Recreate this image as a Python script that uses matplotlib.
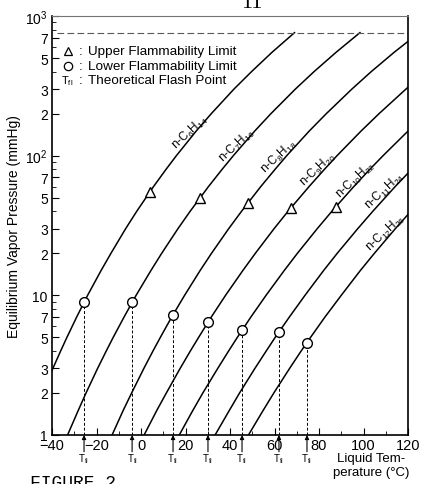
import matplotlib.pyplot as plt
from matplotlib.ticker import FixedLocator, FixedFormatter, NullFormatter

plt.rcParams['font.family'] = ['Liberation Sans', 'DejaVu Sans']
plt.rcParams['mathtext.fontset'] = 'custom'
plt.rcParams['mathtext.rm'] = 'Liberation Sans'
plt.rcParams['mathtext.it'] = 'Liberation Sans:italic'

# vapor pressure curves: temperature (degC) at each pressure level (mmHg)
p_levels = [1, 1.5, 2, 3, 4, 5, 7, 10, 15, 20, 30, 40, 60, 80, 100, 150, 200, 300, 400, 550, 760]
hexane_T = [-44.3, -39.6, -36.1, -33.3, -28.9, -24.0, -18.0, -13.5, -6.9, -1.9, 5.6, 11.3,
            15.9, 24.8, 31.6, 41.8, 49.7, 58.9, 69.0]          # starts at 2 mmHg
heptane_T = [-33.0, -28.2, -24.7, -19.5, -15.6, -12.5, -7.6, -2.2, 4.4, 9.3, 16.6, 22.1,
             30.3, 36.5, 41.5, 51.1, 58.4, 69.4, 77.8, 87.7, 98.4]
octane_T = [-13.0, -8.0, -4.2, 1.3, 5.4, 8.7, 13.8, 19.6, 26.5, 31.7, 39.4, 45.2,
            53.8, 60.3, 65.5, 75.6, 83.3, 94.8, 103.5, 113.8, 125.0]
nonane_T = [1.4, 7.1, 11.4, 17.6, 22.2, 25.9, 31.6, 38.0, 45.7, 51.4, 59.8, 66.1,
            75.5, 82.5, 88.1, 98.9, 107.0, 119.1, 128.2]
decane_T = [17.2, 23.3, 27.8, 34.5, 39.4, 43.3, 49.4, 56.2, 64.3, 70.3, 79.2, 85.8,
            95.6, 102.9, 108.8, 120.0, 128.4]
undecane_T = [33.3, 39.7, 44.3, 51.2, 56.3, 60.3, 66.7, 73.7, 82.0, 88.2, 97.4, 104.2,
              114.2, 121.7]
dodecane_T = [48.3, 54.9, 59.7, 66.8, 72.0, 76.2, 82.7, 90.0, 98.5, 104.9, 114.3, 121.3]

names = ['n-C$_6$H$_{14}$', 'n-C$_7$H$_{16}$', 'n-C$_8$H$_{18}$', 'n-C$_9$H$_{20}$',
         'n-C$_{10}$H$_{22}$', 'n-C$_{11}$H$_{24}$', 'n-C$_{12}$H$_{26}$']

# lower flammability limit (circles) = theoretical flash point
lfl_T = [-25.6, -4.0, 14.4, 30.1, 45.4, 62.0, 74.6]
lfl_P = [8.9, 8.9, 7.25, 6.41, 5.63, 5.47, 4.59]
# upper flammability limit (triangles)
ufl_T = [4.0, 26.5, 48.1, 67.4, 87.6]
ufl_P = [55.1, 50.0, 46.0, 42.3, 43.2]

xticks = [-40, -20, 0, 20, 40, 60, 80, 100, 120]
yticks = [1, 2, 3, 5, 7, 10, 20, 30, 50, 70, 100, 200, 300, 500, 700, 1000]
ylabels = ['1', '2', '3', '5', '7', '10', '2', '3', '5', '7', '10$^2$',
           '2', '3', '5', '7', '10$^3$']

fig = plt.figure(figsize=(4.21, 4.85), dpi=100)
ax = fig.add_axes([52/421, 1 - 436/485, 356/421, 419/485])

curves = [(hexane_T, p_levels[2:])]
for t in [heptane_T, octane_T, nonane_T, decane_T, undecane_T, dodecane_T]:
    curves.append((t, p_levels[:len(t)]))
for t, p in curves:
    ax.plot(t, p, color='k', lw=1.1, solid_joinstyle='round')

ax.axhline(760, xmin=0.015, xmax=1, color='0.35', lw=0.8, dashes=(6, 3))

# flash point drop lines
ax.vlines(lfl_T, 1, lfl_P, colors='k', lw=0.7, linestyles=(0, (3, 2)))
for t in lfl_T:
    ax.annotate('', xy=(t, 0.0), xytext=(t, -0.04), xycoords=ax.get_xaxis_transform(),
                arrowprops=dict(arrowstyle='-|>', lw=0.8, color='k', mutation_scale=6,
                                shrinkA=0, shrinkB=0), annotation_clip=False)
    ax.text(t, -0.055, 'T$_{\\mathrm{fl}}$', transform=ax.get_xaxis_transform(),
            ha='center', va='center', fontsize=7)

ax.plot(lfl_T, lfl_P, 'o', ms=7, mfc='white', mec='k', mew=1.0, zorder=5)
ax.plot(ufl_T, ufl_P, '^', ms=6.5, mfc='white', mec='k', mew=1.0, zorder=5)

# curve labels
label_pos = [(0.388, 0.723), (0.520, 0.692), (0.638, 0.666), (0.747, 0.635),
             (0.851, 0.611), (0.935, 0.585), (0.935, 0.484)]
for name, (lx, ly) in zip(names, label_pos):
    ax.text(lx, ly, name, transform=ax.transAxes, rotation=43, rotation_mode='anchor',
            ha='center', va='center', fontsize=8.5)

# key
ax.plot([0.045], [0.916], '^', ms=6, mfc='white', mec='k', mew=0.9,
        transform=ax.transAxes, clip_on=False)
ax.plot([0.045], [0.881], 'o', ms=6, mfc='white', mec='k', mew=0.9,
        transform=ax.transAxes, clip_on=False)
ax.text(0.025, 0.847, 'T$_{\\mathrm{fl}}$', transform=ax.transAxes, ha='left',
        va='center', fontsize=8)
key_text = ['Upper Flammability Limit', 'Lower Flammability Limit', 'Theoretical Flash Point']
for ky, kt in zip([0.916, 0.881, 0.847], key_text):
    ax.text(0.074, ky, ':', transform=ax.transAxes, va='center', fontsize=9.7)
    ax.text(0.100, ky, kt, transform=ax.transAxes, va='center', fontsize=9.7)

ax.set_yscale('log')
ax.set_xlim(-40, 120)
ax.set_ylim(1, 1000)
ax.xaxis.set_major_locator(FixedLocator(xticks))
ax.xaxis.set_minor_locator(FixedLocator(range(-30, 120, 20)))
ax.yaxis.set_major_locator(FixedLocator(yticks))
ax.yaxis.set_major_formatter(FixedFormatter(ylabels))
ax.yaxis.set_minor_locator(FixedLocator([4, 6, 8, 9, 40, 60, 80, 90, 400, 600, 800, 900]))
ax.yaxis.set_minor_formatter(NullFormatter())
ax.tick_params(which='major', direction='in', length=5, width=0.8)
ax.tick_params(which='minor', direction='in', length=3, width=0.6)
ax.tick_params(axis='x', pad=2, labelsize=10.5)
ax.tick_params(axis='y', pad=3, labelsize=10)

for s in ['left', 'bottom', 'right']:
    ax.spines[s].set_linewidth(1.2)
ax.spines['top'].set_linewidth(0.8)
ax.spines['top'].set_color('0.45')

ax.set_ylabel('Equilibrium Vapor Pressure (mmHg)', fontsize=10)
ax.yaxis.set_label_coords(-0.088, 0.5)

fig.text(371/421, 1 - 466/485, 'Liquid Tem-\nperature (°C)', ha='center', va='center',
         fontsize=9.5, linespacing=1.2)
fig.text(252/421, 1 - 8/485, '11', ha='center', va='baseline', fontsize=16,
         family='Liberation Serif')
fig.text(30/421, 1 - 475/485, 'FIGURE 2', ha='left', va='top', fontsize=13,
         family='Liberation Mono')

fig.savefig('out.png', dpi=100)
